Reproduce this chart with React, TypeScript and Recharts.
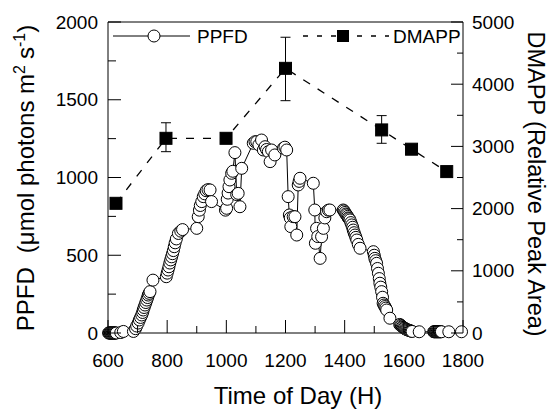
import React from 'react';
import { ComposedChart, Scatter, XAxis, YAxis, ErrorBar, ReferenceLine, Customized } from 'recharts';

const ppfdTime = [
  602, 604, 606, 608, 610, 612, 614, 616, 618, 620, 622, 624, 626, 628,
  643, 652,
  686, 693, 697, 702, 706, 710, 714, 717, 719, 722, 725, 728, 731, 734, 736, 739, 742, 752,
  797, 800, 803, 806, 809, 812, 815, 818, 821, 824, 827, 831, 838, 846, 852,
  900, 905, 909, 912, 917, 922, 927, 932, 938, 945, 950,
  997, 1001, 1003, 1006, 1009, 1012, 1018, 1022, 1029, 1035, 1040, 1046, 1052,
  1091, 1097, 1103, 1110, 1119, 1125, 1131, 1136, 1142, 1148, 1153, 1164,
  1193, 1198, 1204,
  1209, 1213, 1216, 1218, 1226, 1232, 1238, 1243, 1246, 1249,
  1294, 1299, 1301, 1305, 1309, 1317, 1322, 1328, 1333, 1339, 1345, 1350,
  1395, 1398, 1401, 1404, 1407, 1410, 1412, 1415, 1418, 1421, 1424, 1427, 1429, 1432, 1435, 1438, 1441, 1446, 1452,
  1497, 1500, 1502, 1505, 1508, 1511, 1514, 1517, 1519, 1522, 1525, 1528, 1530, 1533, 1536, 1539, 1542, 1553,
  1586, 1589, 1592, 1595, 1598, 1601, 1604, 1607, 1610, 1613, 1616, 1619, 1622, 1625, 1628, 1652,
  1701, 1703, 1705, 1707, 1709, 1711, 1713, 1715, 1717, 1719, 1721, 1723, 1725, 1727, 1752, 1795,
];

const ppfdValue = [
  0, 0, 0, 0, 0, 0, 0, 0, 0, 0, 0, 0, 0, 0,
  3, 10,
  10, 28, 45, 64, 84, 100, 116, 132, 148, 164, 180, 196, 212, 228, 244, 255, 266, 340,
  362, 385, 405, 426, 450, 470, 490, 510, 530, 555, 580, 605, 640, 655, 665,
  673, 748, 790, 820, 845, 877, 895, 915, 922, 920, 845,
  790, 802, 860, 900, 941, 984, 1027, 1040, 1160, 890, 898, 812, 1059,
  1220, 1230, 1230, 1210, 1241, 1177, 1198, 1180, 1166, 1102, 1177, 1145,
  1188, 1195, 1177,
  877, 759, 740, 684, 748, 748, 630, 952, 975, 995,
  963, 791, 577, 673, 620, 480, 619, 673, 740, 780, 790, 791,
  791, 785, 775, 765, 759, 750, 740, 735, 727, 710, 695, 680, 662, 645, 630, 615, 598, 570, 545,
  523, 500, 480, 465, 448, 415, 384, 350, 320, 295, 266, 230, 191, 180, 170, 160, 148, 95,
  55, 50, 45, 40, 36, 32, 28, 25, 22, 20, 18, 16, 14, 12, 10, 8,
  8, 8, 8, 8, 8, 8, 8, 8, 8, 8, 8, 8, 8, 8, 8, 8,
];

const dmappTime = [627, 796, 999, 1200, 1525, 1626, 1745];
const dmappValue = [2085, 3130, 3130, 4255, 3265, 2955, 2595];
const dmappErrLow = [0, 215, 0, 520, 215, 0, 0];
const dmappErrHigh = [0, 250, 0, 500, 230, 0, 0];

const xTicks = [600, 700, 800, 900, 1000, 1100, 1200, 1300, 1400, 1500, 1600, 1700, 1800];
const leftTicks = [0, 250, 500, 750, 1000, 1250, 1500, 1750, 2000];
const rightTicks = [0, 500, 1000, 1500, 2000, 2500, 3000, 3500, 4000, 4500, 5000];

const ppfdData = ppfdTime.map((t, i) => ({ x: t, y: ppfdValue[i] }));
const dmappData = dmappTime.map((t, i) => ({ x: t, y: dmappValue[i], err: [dmappErrLow[i], dmappErrHigh[i]] }));

const FONT = '"Liberation Sans", Arial, sans-serif';

const XTick = (p: any) => {
  const { x, y, payload } = p;
  const major = payload.value % 200 === 0;
  return (
    <g>
      <line x1={x} y1={y} x2={x} y2={y - (major ? 13 : 7)} stroke="#000" strokeWidth={1} />
      {major && (
        <text x={x} y={y + 27} dy="0.35em" textAnchor="middle" fontSize={19} fill="#000" fontFamily={FONT}>
          {payload.value}
        </text>
      )}
    </g>
  );
};

const LeftTick = (p: any) => {
  const { x, y, payload } = p;
  const major = payload.value % 500 === 0;
  return (
    <g>
      <line x1={x} y1={y} x2={x + (major ? 13 : 8)} y2={y} stroke="#000" strokeWidth={1} />
      {major && (
        <text x={x - 10} y={y} dy="0.35em" textAnchor="end" fontSize={19} fill="#000" fontFamily={FONT}>
          {payload.value}
        </text>
      )}
    </g>
  );
};

const RightTick = (p: any) => {
  const { x, y, payload } = p;
  const major = payload.value % 1000 === 0;
  return (
    <g>
      <line x1={x} y1={y} x2={x - (major ? 12 : 6)} y2={y} stroke="#000" strokeWidth={1} />
      {major && (
        <text x={x + 9} y={y} dy="0.35em" textAnchor="start" fontSize={19} fill="#000" fontFamily={FONT}>
          {payload.value}
        </text>
      )}
    </g>
  );
};

const Circle = (p: any) => (
  <circle cx={p.cx} cy={p.cy} r={6} fill="#fff" stroke="#000" strokeWidth={1} />
);

const Square = (p: any) => (
  <rect x={p.cx - 6} y={p.cy - 6} width={12} height={12} fill="#000" stroke="#000" />
);

const Decorations = () => (
  <g fontFamily={FONT} fill="#000">
    {/* legend */}
    <line x1={113} y1={36} x2={190} y2={36} stroke="#000" strokeWidth={1} />
    <circle cx={154} cy={36} r={6} fill="#fff" stroke="#000" strokeWidth={1} />
    <text x={197} y={36} dy="0.35em" fontSize={19}>PPFD</text>
    <line x1={303} y1={36} x2={336} y2={36} stroke="#000" strokeWidth={1.3} strokeDasharray="5 9" />
    <rect x={337} y={30} width={12} height={12} fill="#000" />
    <line x1={357} y1={36} x2={389} y2={36} stroke="#000" strokeWidth={1.3} strokeDasharray="5 9" />
    <text x={393} y={36} dy="0.35em" fontSize={19}>DMAPP</text>
    {/* axis titles */}
    <text transform="translate(26,178) rotate(-90)" textAnchor="middle" dy="0.35em" fontSize={24}>
      <tspan>PPFD</tspan>
      <tspan dx={14}>(μmol photons m</tspan>
      <tspan dy={-9} fontSize={16}>2</tspan>
      <tspan dy={9} dx={6}>s</tspan>
      <tspan dy={-9} fontSize={16}>-1</tspan>
      <tspan dy={9}>)</tspan>
    </text>
    <text transform="translate(536,184) rotate(90)" textAnchor="middle" dy="0.35em" fontSize={23.5}>
      DMAPP (Relative Peak Area)
    </text>
    <text x={298} y={396} dy="0.35em" textAnchor="middle" fontSize={24}>
      Time of Day (H)
    </text>
  </g>
);

export default function App() {
  return (
    <div style={{ position: 'absolute', left: 0, top: 0, fontFamily: FONT }}>
      <ComposedChart width={549} height={410} margin={{ top: 22, right: 0, bottom: 0, left: 0 }}>
        <XAxis
          dataKey="x"
          type="number"
          domain={[600, 1800]}
          ticks={xTicks}
          interval={0}
          height={77}
          axisLine={{ stroke: '#000', strokeWidth: 1 }}
          tickLine={false}
          tickSize={0}
          tickMargin={0}
          tick={(p: any) => <XTick {...p} />}
        />
        <YAxis
          yAxisId="left"
          dataKey="y"
          type="number"
          orientation="left"
          domain={[0, 2000]}
          ticks={leftTicks}
          interval={0}
          width={108}
          axisLine={{ stroke: '#000', strokeWidth: 1 }}
          tickLine={false}
          tickSize={0}
          tickMargin={0}
          tick={(p: any) => <LeftTick {...p} />}
        />
        <YAxis
          yAxisId="right"
          dataKey="y"
          type="number"
          orientation="right"
          domain={[0, 5000]}
          ticks={rightTicks}
          interval={0}
          width={86}
          axisLine={{ stroke: '#000', strokeWidth: 1 }}
          tickLine={false}
          tickSize={0}
          tickMargin={0}
          tick={(p: any) => <RightTick {...p} />}
        />
        <ReferenceLine yAxisId="left" y={2000} stroke="#000" strokeWidth={1} />
        <Scatter
          yAxisId="left"
          data={ppfdData}
          line={{ stroke: '#000', strokeWidth: 1 }}
          lineJointType="linear"
          shape={Circle}
          isAnimationActive={false}
        />
        <Scatter
          yAxisId="right"
          data={dmappData}
          line={{ stroke: '#000', strokeWidth: 1.3, strokeDasharray: '8 9' }}
          lineJointType="linear"
          shape={Square}
          isAnimationActive={false}
        >
          <ErrorBar dataKey="err" direction="y" width={5} stroke="#000" strokeWidth={1} />
        </Scatter>
        <Customized component={Decorations} />
      </ComposedChart>
    </div>
  );
}
